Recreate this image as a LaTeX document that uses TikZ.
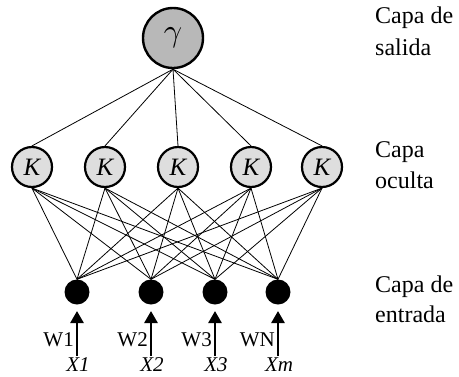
\documentclass[tikz,border=0pt]{standalone}
\usepackage{fontspec}
\setmainfont{Liberation Serif}
\usetikzlibrary{arrows.meta}
\begin{document}
\begin{tikzpicture}[x=1pt,y=1pt,
  outnode/.style={circle,draw=black,line width=2.4pt,fill=black!28,minimum size=60pt,inner sep=0pt},
  hidnode/.style={circle,draw=black,line width=2.2pt,fill=black!13,minimum size=40pt,inner sep=0pt,font=\fontsize{25}{25}\selectfont\itshape},
  innode/.style={circle,fill=black,minimum size=25pt,inner sep=0pt},
  link/.style={line width=0.8pt},
  feed/.style={line width=2.6pt,-{Triangle[width=13pt,length=12pt]}},
  wlabel/.style={anchor=east,inner sep=0pt,font=\fontsize{21}{21}\selectfont},
  xlabel/.style={anchor=base,inner sep=0pt,font=\fontsize{21}{21}\selectfont\itshape},
  layer/.style={anchor=base west,inner sep=0pt,font=\fontsize{24}{24}\selectfont}]
\useasboundingbox (0,0) rectangle (459,-376);

% output neuron
\node[outnode] (g) at (173,-38) {\scalebox{3.2}{$\gamma$}};

% hidden layer
\foreach \i/\x in {1/32,2/105,3/178,4/251,5/322}
  \node[hidnode] (k\i) at (\x,-167) {K};

% input layer
\foreach \i/\x in {1/77,2/151,3/215,4/278}
  \node[innode] (n\i) at (\x,-292) {};

% connections
\foreach \i in {1,...,5}
  \draw[link] (g.south) -- (k\i.north);
\foreach \i in {1,...,5}
  \foreach \j in {1,...,4}
    \draw[link] (k\i.south) -- (n\j.north);

% input arrows with weights and inputs
\foreach \j/\x/\w/\v in {1/77/W1/X1,2/151/W2/X2,3/215/W3/X3,4/278/WN/Xm}{
  \coordinate (a\j) at (\x,-356);
  \coordinate (b\j) at (\x,-311);
  \draw[feed] (a\j) -- (b\j);
  \node[wlabel] (w\j) at (\x-3,-340) {\w};
  \node[xlabel] (x\j) at (\x+1,-371) {\v};
}

% layer names
\node[layer] (t1a) at (375,-23) {Capa de};
\node[layer] (t1b) at (375,-55) {salida};
\node[layer] (t2a) at (375,-157) {Capa};
\node[layer] (t2b) at (375,-188) {oculta};
\node[layer] (t3a) at (375,-292) {Capa de};
\node[layer] (t3b) at (375,-322) {entrada};
\end{tikzpicture}
\end{document}
